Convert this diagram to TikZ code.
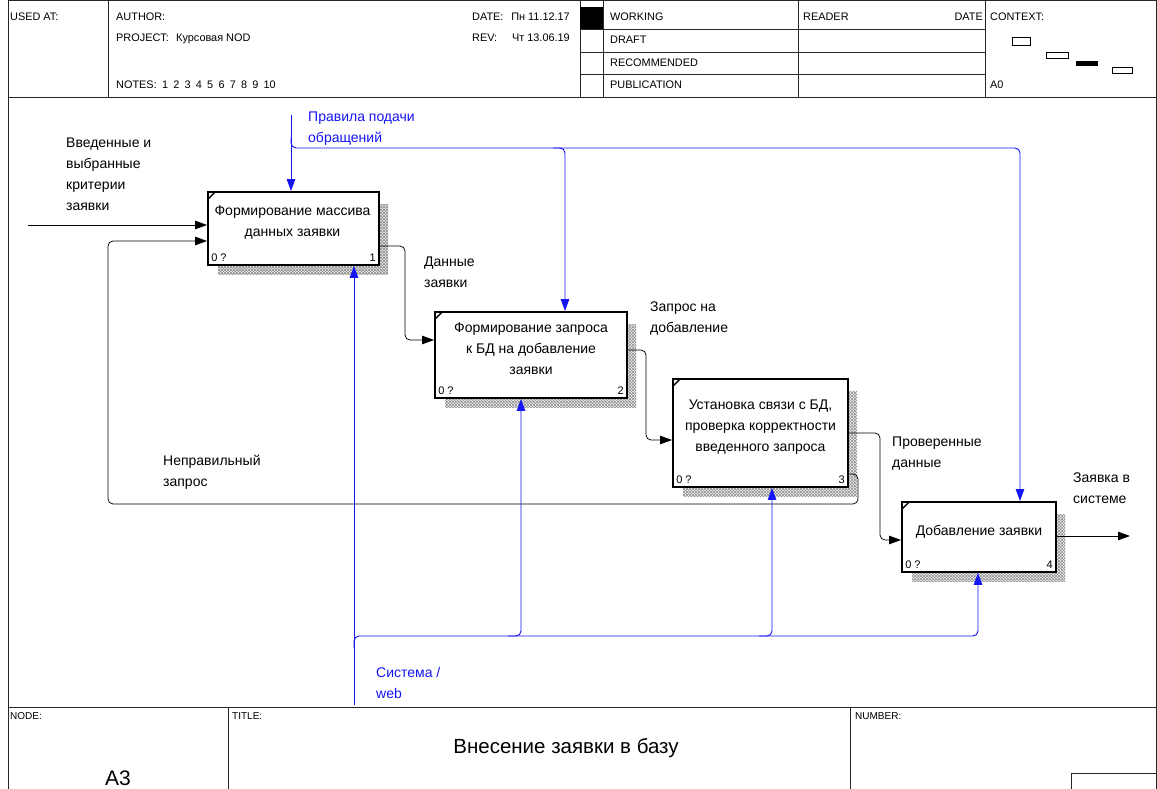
\documentclass[tikz,border=0pt]{standalone}
\usepackage{fontspec}
\setmainfont{Liberation Sans}
\usetikzlibrary{arrows.meta,patterns,calc}
\definecolor{ctlblue}{RGB}{20,20,245}
% fine diagonal mesh used for the box shadows
\pgfdeclarepatternformonly{diagmesh}{\pgfqpoint{-1pt}{-1pt}}{\pgfqpoint{4pt}{4pt}}{\pgfqpoint{3pt}{3pt}}{%
  \pgfsetlinewidth{0.7pt}%
  \pgfpathmoveto{\pgfqpoint{0pt}{0pt}}\pgfpathlineto{\pgfqpoint{3.1pt}{3.1pt}}%
  \pgfpathmoveto{\pgfqpoint{0pt}{3pt}}\pgfpathlineto{\pgfqpoint{3.1pt}{-0.1pt}}%
  \pgfusepath{stroke}}
\begin{document}
\begin{tikzpicture}[x=1pt,y=-1pt,
  rule/.style={draw=black!85, line width=0.8pt},
  hdr/.style={font=\fontsize{10.9}{13}\selectfont, inner sep=0pt, anchor=base west},
  lbl/.style={font=\fontsize{14}{21}\selectfont, inner sep=0pt, align=left, anchor=north west},
  bluelbl/.style={lbl, text=ctlblue},
  actbox/.style={draw=black, line width=1.9pt, fill=white, inner sep=0pt},
  boxtxt/.style={font=\fontsize{14}{21}\selectfont, align=center, inner sep=0pt},
  corner/.style={font=\fontsize{11}{12}\selectfont, inner sep=0pt},
  shadow/.style={pattern=diagmesh, pattern color=black!42},
  arr/.style={draw=black, line width=0.75pt, rounded corners=5pt, -{Triangle[length=12pt,width=8.5pt]}},
  carr/.style={draw=ctlblue, line width=0.95pt, rounded corners=5pt, -{Triangle[length=12pt,width=8.5pt]}},
]
\useasboundingbox (0,0) rectangle (1157,789);

% ---------- outer frame, header and footer ----------
\draw[rule] (8,0.5) -- (1156.5,0.5) -- (1156.5,789) (8,0) -- (8,789);
\draw[rule] (8,97) -- (1157,97);
\draw[rule] (108,0) -- (108,97);
\draw[rule] (580,0) -- (580,97) (603,0) -- (603,97) (798,0) -- (798,97) (985,0) -- (985,97);
\draw[rule] (580,29) -- (985,29) (580,52) -- (985,52) (580,74) -- (985,74);
\fill[black] (580,7) rectangle (603,29);

\node[hdr] (usedat) at (10,21) {USED AT:};
\node[hdr] (author) at (116,21) {AUTHOR:};
\node[hdr] (project) at (116,42) {PROJECT:};
\node[hdr] (projname) at (176,42) {Курсовая NOD};
\node[hdr] (notes) at (116,89) {NOTES:};
\node[hdr] (notenums) at (162,89) {\spaceskip=5.2pt 1 2 3 4 5 6 7 8 9 10};
\node[hdr] (date) at (472,21) {DATE:};
\node[hdr, anchor=base east] (dateval) at (570,21) {Пн 11.12.17};
\node[hdr] (rev) at (472,42) {REV:};
\node[hdr, anchor=base east] (revval) at (570,42) {Чт 13.06.19};
\node[hdr] (working) at (610,21) {WORKING};
\node[hdr] (draft) at (610,44) {DRAFT};
\node[hdr] (recommended) at (610,67) {RECOMMENDED};
\node[hdr] (publication) at (610,89) {PUBLICATION};
\node[hdr] (reader) at (803,21) {READER};
\node[hdr, anchor=base east] (rdate) at (983,21) {DATE};
\node[hdr] (context) at (990,21) {CONTEXT:};
\node[hdr] (nodeA0) at (990,89) {A0};

% context thumbnails
\draw[line width=0.8pt] (1012,37) rectangle (1030,45);
\draw[line width=0.8pt] (1046,52) rectangle (1068,58);
\fill[black] (1076,61) rectangle (1098,66);
\draw[line width=0.8pt] (1112,67) rectangle (1132,73);

% footer
\draw[rule] (8,707) -- (1157,707);
\draw[rule] (228,707) -- (228,789) (850,707) -- (850,789);
\draw[rule] (1071,789) -- (1071,773) -- (1157,773);
\node[hdr, font=\fontsize{10}{11}\selectfont] (nodelbl) at (10,719) {NODE:};
\node[hdr, font=\fontsize{10}{11}\selectfont] (titlelbl) at (232,719) {TITLE:};
\node[hdr, font=\fontsize{10}{11}\selectfont] (numberlbl) at (855,719) {NUMBER:};
\node[font=\fontsize{20.5}{24}\selectfont, inner sep=0pt] (title) at (566,748) {Внесение заявки в базу};
\node[font=\fontsize{21}{24}\selectfont, inner sep=0pt] (nodeid) at (118,778) {A3};

% ---------- activity boxes ----------
\fill[shadow] (218,204) rectangle (388,274);
\fill[shadow] (445,324) rectangle (636,407);
\fill[shadow] (683,391) rectangle (857,496);
\fill[shadow] (912,514) rectangle (1065,581);

\node[actbox, minimum width=171pt, minimum height=73pt] (b1) at (293.5,228.5) {};
\node[actbox, minimum width=192pt, minimum height=86pt] (b2) at (531,355) {};
\node[actbox, minimum width=175pt, minimum height=108pt] (b3) at (760.5,433) {};
\node[actbox, minimum width=154pt, minimum height=70pt] (b4) at (979,537) {};

\foreach \b/\n in {b1/1,b2/2,b3/3,b4/4}{
  \draw[line width=1.3pt] ($(\b.north west)+(1,8)$) -- ($(\b.north west)+(8,1)$);
  \node[corner, anchor=base west] (\b zero) at ($(\b.south west)+(4,-4)$) {0 ?};
  \node[corner, anchor=base east] (\b num) at ($(\b.south east)+(-4,-4)$) {\n};
}

\node[boxtxt] (t1) at ($(b1.center)+(-1,-5.5)$) {Формирование массива\\данных заявки};
\node[boxtxt] (t2) at ($(b2.center)+(0,-6)$) {Формирование запроса\\к БД на добавление\\заявки};
\node[boxtxt] (t3) at ($(b3.center)+(0,-6)$) {Установка связи с БД,\\проверка корректности\\введенного запроса};
\node[boxtxt] (t4) at ($(b4.center)+(0,-5)$) {Добавление заявки};

% ---------- inputs, outputs and feedback ----------
\coordinate (in1) at (28,225);
\draw[arr] (in1) -- (in1 -| b1.west);

\draw[arr] (b1.east |- 0,246) -- (405,246) -- (405,340) -- (b2.west |- 0,340);
\draw[arr] (b2.east |- 0,350) -- (646,350) -- (646,440) -- (b3.west |- 0,440);
\draw[arr] (b3.east |- 0,433) -- (880,433) -- (880,540) -- (b4.west |- 0,540);
\coordinate (out4) at (1130,536);
\draw[arr] (b4.east |- out4) -- (out4);

\draw[arr] (b3.east |- 0,474) -- (858,474) -- (858,504) -- (108,504) -- (108,241) -- (b1.west |- 0,241);

% ---------- controls ----------
\coordinate (ctl) at (291,115);
\draw[carr] (ctl) -- (ctl |- b1.north);
\draw[carr] (291,138) -- (291,148) -- (1020,148) -- (1020,148 |- b4.north);
\draw[carr] (553,148) -- (565,148) -- (565,148 |- b2.north);

% ---------- mechanisms ----------
\coordinate (mech) at (354,705);
\draw[carr] (mech) -- (mech |- b1.south);
\draw[carr] (354,648) -- (354,636) -- (978,636) -- (978,636 |- b4.south);
\draw[carr] (508,636) -- (521,636) -- (521,636 |- b2.south);
\draw[carr] (759,636) -- (772,636) -- (772,636 |- b3.south);

% ---------- arrow labels ----------
\node[lbl] (lin1) at (66,138) {Введенные и\\выбранные\\критерии\\заявки};
\node[lbl] (lfb) at (163,455) {Неправильный\\запрос};
\node[lbl] (lo1) at (424,257) {Данные\\заявки};
\node[lbl] (lo2) at (650,302) {Запрос на\\добавление};
\node[lbl] (lo3) at (892,437) {Проверенные\\данные};
\node[lbl] (lo4) at (1073,473) {Заявка в\\системе};
\node[bluelbl] (lctl) at (308,112) {Правила подачи\\обращений};
\node[bluelbl] (lmech) at (376,667) {Система /\\web};
\end{tikzpicture}
\end{document}
